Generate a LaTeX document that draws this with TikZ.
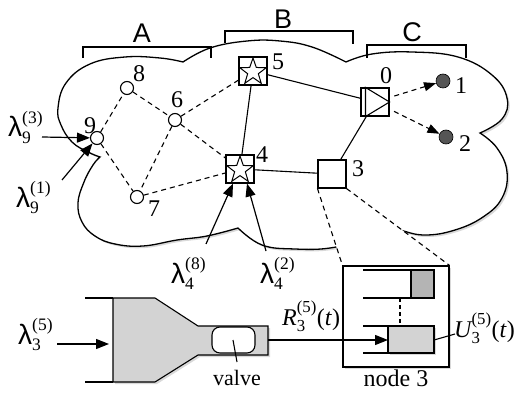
\documentclass[tikz,border=0pt]{standalone}
\usepackage{amsmath}
\usepackage{fontspec}
\setmainfont{Liberation Serif}
\newfontfamily\sansf{Liberation Sans}
\usetikzlibrary{shapes.geometric,arrows.meta,shadows}
\pgfdeclarelayer{bg}
\pgfsetlayers{bg,main}
\definecolor{dotgray}{RGB}{85,85,85}
\definecolor{lgray}{RGB}{211,211,211}
\definecolor{mgray}{RGB}{180,180,180}
\newcommand\lamsym{{\sansf\fontsize{28}{30}\selectfont λ}}
\newcommand\lamlab[2]{$\text{\lamsym}_{\text{#1}}^{\text{(#2)}}$}
\begin{document}
\begin{tikzpicture}[x=1pt,y=-1pt,
  circnode/.style={circle,draw,fill=white,line width=1.1pt,minimum size=13pt,inner sep=0pt},
  sqnode/.style={rectangle,draw,fill=white,line width=1.1pt,minimum size=28pt,inner sep=0pt},
  starnode/.style={star,star points=5,star point ratio=2.5,draw,line width=1pt,minimum size=28pt,inner sep=0pt},
  dotnode/.style={circle,draw=black,fill=dotgray,line width=0.6pt,minimum size=14pt,inner sep=0pt},
  num/.style={font=\fontsize{24}{28}\selectfont,inner sep=0pt},
  letter/.style={font=\sansf\fontsize{27}{30}\selectfont,inner sep=0pt},
  dsh/.style={line width=1.1pt,dash pattern=on 5pt off 4pt},
  sol/.style={line width=1.1pt},
  arr/.style={line width=1.2pt,-{Triangle[length=13pt,width=10pt]}},
  darr/.style={line width=1.1pt,dash pattern=on 5pt off 4pt,-{Triangle[length=12pt,width=9pt]}},
  lam/.style={font=\fontsize{25}{29}\selectfont,inner sep=0pt,anchor=base west},
  flab/.style={font=\fontsize{24}{28}\selectfont,inner sep=0pt,anchor=base west},
  shad/.style={drop shadow={shadow xshift=2pt,shadow yshift=-2pt,opacity=0.3}},
]
\useasboundingbox (0,0) rectangle (526,395);

% cloud
\begin{pgfonlayer}{bg}
\path[draw,line width=1.3pt,fill=white,shad]
  plot[smooth,tension=0.7] coordinates {(100,157) (88,152) (72,142) (61,125) (58,108) (66,83) (90,64) (125,57) (160,58) (183,62)}
  -- plot[smooth,tension=0.7] coordinates {(183,62) (210,48) (247,41) (280,41) (312,47) (346,62)}
  -- plot[smooth,tension=0.7] coordinates {(346,62) (372,54) (412,52) (458,57) (492,75) (507,98) (502,119) (480,133)}
  -- plot[smooth,tension=0.7] coordinates {(480,133) (497,148) (507,172) (502,198) (483,217) (455,230) (425,235) (400,230) (375,222)}
  -- plot[smooth,tension=0.7] coordinates {(375,222) (355,240) (330,248) (295,249) (262,245) (238,228)}
  -- plot[smooth,tension=0.7] coordinates {(238,228) (207,236) (177,240) (143,246) (115,244) (95,236) (82,222) (78,203) (84,182) (93,165) (100,157)}
  -- cycle;
\end{pgfonlayer}

% brackets
\draw[sol] (83,58) -- (83,47) -- (211,47) -- (211,58);
\draw[sol] (225,43) -- (225,31) -- (353,31) -- (353,44);
\draw[sol] (367,58) -- (367,45) -- (466,45) -- (466,58);
\node[letter] (labA) at (142,33) {A};
\node[letter] (labB) at (283,19) {B};
\node[letter] (labC) at (412,32) {C};

% nodes
\node[circnode] (n8) at (127,88) {};
\node[circnode] (n6) at (175,120) {};
\node[circnode] (n9) at (97,138) {};
\node[circnode] (n7) at (137,197) {};
\node[sqnode] (n5) at (253,71) {};
\node[starnode] (s5) at ([yshift=-1pt]n5.center) {};
\node[sqnode] (n4) at (240,169) {};
\node[starnode] (s4) at ([yshift=-1pt]n4.center) {};
\node[sqnode] (n3) at (332,174) {};
\node[sqnode] (n0) at (375,102) {};
\draw[sol] ([xshift=5pt]n0.north west) -- (n0.east) -- ([xshift=5pt]n0.south west) -- cycle;
\node[dotnode] (n1) at (443,81) {};
\node[dotnode] (n2) at (446,137) {};

% node numbers
\node[num] (t8) at (139,74) {8};
\node[num] (t6) at (177,100) {6};
\node[num] (t9) at (90,126) {9};
\node[num] (t7) at (154,209) {7};
\node[num] (t5) at (278,62) {5};
\node[num] (t4) at (262,155) {4};
\node[num] (t3) at (358,169) {3};
\node[num] (t0) at (386,76) {0};
\node[num] (t1) at (461,86) {1};
\node[num] (t2) at (465,144) {2};

% edges
\draw[dsh] (n9) -- (n8);
\draw[dsh] (n9) -- (n7);
\draw[dsh] (n8) -- (n6);
\draw[dsh] (n6) -- (n7);
\draw[dsh] (n6) -- (n5);
\draw[dsh] (n6) -- (n4);
\draw[dsh] (n7) -- (n4);
\draw[sol] (n5) -- (n4);
\draw[sol] (n5) -- (n0);
\draw[sol] (n4) -- (n3);
\draw[sol] (n3) -- (n0);
\draw[darr,shorten <=5pt] (n0) -- (n1);
\draw[darr,shorten <=5pt] (n0) -- (n2);

% lambda inputs
\node[lam] (l93) at (8,137) {\lamlab{9}{3}};
\coordinate (l93s) at (42,137);
\draw[arr] (l93s) -- (n9);
\node[lam] (l91) at (16,207) {\lamlab{9}{1}};
\coordinate (l91s) at (62,180);
\draw[arr] (l91s) -- (n9);
\node[lam] (l48) at (171,283) {\lamlab{4}{8}};
\coordinate (l48s) at (206,244);
\draw[arr] (l48s) -- ([xshift=-7pt]n4.south);
\node[lam] (l42) at (260,283) {\lamlab{4}{2}};
\coordinate (l42s) at (266,251);
\draw[arr] (l42s) -- ([xshift=7pt]n4.south);

% zoom cone and node 3 box
\node[draw,line width=1.1pt,fill=white,shad,minimum width=106pt,minimum height=101pt,inner sep=0pt] (box) at (396,316.5) {};
\begin{pgfonlayer}{bg}
\fill[white] (n3.south west) -- (box.north west) -- (box.north east) -- (n3.south east) -- cycle;
\end{pgfonlayer}
\draw[dsh] (n3.south west) -- (box.north west);
\draw[dsh] (n3.south east) -- (box.north east);
\node[font=\fontsize{24}{28}\selectfont,inner sep=0pt,anchor=base] (lbox) at (396,386) {node 3};

% queues inside node 3
\draw[sol] (363,270) -- (434,270);
\draw[sol] (363,298) -- (434,298);
\draw[sol,fill=mgray] (411,270) rectangle (434,298);
\draw[line width=1.1pt,dash pattern=on 4pt off 3pt] (400,298) -- (400,326);
\draw[sol] (363,326) -- (434,326);
\draw[sol] (363,353) -- (434,353);
\draw[sol,fill=lgray,shad] (388,326) rectangle (434,353);
\coordinate (uend) at (434,340);
\coordinate (ulab) at (455,334);
\draw[sol] (uend) -- (ulab);
\node[flab] (lu) at (454,337) {$\text{\itshape U}_{\text{3}}^{\text{(5)}}\text{(\textit{t})}$};

% funnel
\draw[sol,fill=lgray,shad] (113,298) -- (155,298) -- (198,326) -- (268,326) -- (268,355) -- (198,355) -- (155,382) -- (113,382) -- cycle;
\draw[sol] (85,298) -- (113,298);
\draw[sol] (85,382) -- (113,382);
\draw[sol,fill=white,rounded corners=8pt] (212,327) rectangle (255,353);
\coordinate (vc) at (233,340);
\coordinate (vl) at (237,362);
\draw[sol] (vc) -- (vl);
\node[font=\fontsize{22}{26}\selectfont,inner sep=0pt,anchor=base] (lvalve) at (237,385) {valve};
\node[lam] (l35) at (18,344) {\lamlab{3}{5}};
\coordinate (l35s) at (57,344);
\coordinate (funL) at (109,344);
\draw[arr] (l35s) -- (funL);
\coordinate (tubeout) at (268,340);
\coordinate (qin) at (388,340);
\draw[arr] (tubeout) -- (qin);
\node[flab] (lr) at (282,325) {$\text{\itshape R}_{\text{3}}^{\text{(5)}}\text{(\textit{t})}$};
\end{tikzpicture}
\end{document}
